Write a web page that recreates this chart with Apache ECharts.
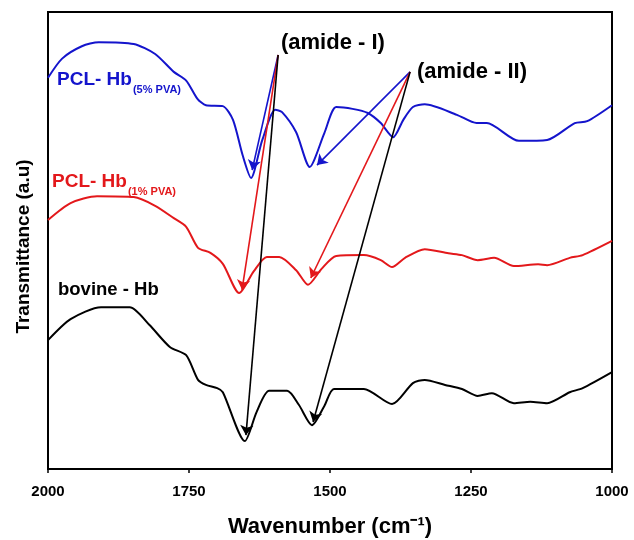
<!DOCTYPE html>
<html>
<head>
<meta charset="utf-8">
<script src="https://cdn.jsdelivr.net/npm/echarts@6/dist/echarts.min.js"></script>
<style>
  html, body { margin: 0; padding: 0; background: #fff; }
  #chart { width: 634px; height: 540px; }
</style>
</head>
<body>
<div id="chart"></div>
<script>
// wavenumber (cm-1) and transmittance (a.u., offset per sample)
const blueWn = [2000, 1975, 1940, 1910, 1848, 1810, 1777, 1755, 1735, 1720, 1690, 1672, 1655, 1640, 1620, 1597, 1585, 1560, 1536, 1510, 1489, 1460, 1433, 1410, 1388, 1370, 1353, 1332, 1275, 1240, 1222, 1165, 1115, 1066, 1044, 1000]
const blueT = [85.6, 89.8, 92.5, 93.4, 93.0, 90.8, 86.9, 85.0, 81.0, 79.6, 79.4, 76.4, 68.7, 63.7, 72.0, 78.6, 78.1, 73.7, 66.1, 73.5, 79.2, 78.8, 77.9, 75.7, 72.6, 76.4, 79.2, 79.8, 77.5, 75.7, 75.7, 71.8, 72.0, 75.7, 76.1, 79.6]

const redWn = [2000, 1960, 1913, 1848, 1810, 1777, 1755, 1734, 1712, 1690, 1661, 1635, 1612, 1590, 1560, 1539, 1515, 1489, 1440, 1410, 1390, 1367, 1332, 1290, 1266, 1238, 1209, 1174, 1131, 1115, 1075, 1052, 1000]
const redT = [54.5, 58.2, 59.7, 59.5, 57.6, 54.9, 53.0, 48.4, 47.3, 44.9, 38.5, 43.3, 46.4, 46.4, 43.5, 40.3, 43.8, 46.6, 46.8, 45.7, 44.2, 46.2, 48.1, 47.2, 46.8, 45.7, 46.2, 44.4, 44.8, 44.6, 46.2, 46.8, 49.9]

const blackWn = [2000, 1960, 1906, 1855, 1820, 1784, 1755, 1734, 1720, 1700, 1690, 1651, 1630, 1608, 1576, 1555, 1532, 1510, 1493, 1440, 1390, 1353, 1332, 1296, 1266, 1238, 1213, 1174, 1145, 1115, 1075, 1052, 1000]
const blackT = [28.2, 32.8, 35.4, 35.4, 31.5, 26.7, 24.9, 19.5, 18.4, 17.7, 16.8, 6.1, 12.5, 17.1, 17.1, 14.0, 9.6, 13.8, 17.5, 17.5, 14.2, 18.8, 19.5, 18.4, 17.5, 16.0, 16.6, 14.4, 14.7, 14.4, 16.8, 17.7, 21.2]

const xTicks = [2000, 1750, 1500, 1250, 1000]

// arrow annotations: start points and arrow tips [wn, T]
const amide1From = [1592, 90.6]
const amide2From = [1358, 86.9]
const blueTips = [[1638, 65.4], [1523, 66.5]]
const redTips = [[1656, 39.2], [1534, 41.8]]
const blackTips = [[1649, 7.4], [1530, 10.3]]

const BLUE = '#1414cc'
const RED = '#e3181b'
const BLACK = '#000000'
const FONT = 'Liberation Sans'

const zip = (xs, ys) => xs.map((x, i) => [x, ys[i]])

const arrows = (tips, color) => ({
  silent: true,
  symbol: ['none', 'arrow'],
  symbolSize: 10,
  label: { show: false },
  itemStyle: { color },
  lineStyle: { color, width: 1.6, type: 'solid' },
  emphasis: { disabled: true },
  data: [
    [{ coord: amide1From }, { coord: tips[0] }],
    [{ coord: amide2From }, { coord: tips[1] }],
  ],
})

const makeSeries = (name, wn, t, color, tips) => ({
  name,
  type: 'line',
  symbol: 'none',
  smooth: 0.25,
  data: zip(wn, t),
  lineStyle: { color, width: 2 },
  itemStyle: { color },
  markLine: arrows(tips, color),
})

const chart = echarts.init(document.getElementById('chart'))
chart.setOption({
  animation: false,
  grid: {
    left: 48, right: 22, top: 12, bottom: 71,
    outerBoundsMode: 'none',
    show: true, borderColor: '#000', borderWidth: 2,
  },
  xAxis: {
    type: 'value',
    inverse: true,
    min: 1000,
    max: 2000,
    interval: 250,
    name: 'Wavenumber (cm⁻¹)',
    nameLocation: 'middle',
    nameGap: 47,
    nameTextStyle: { fontFamily: FONT, fontWeight: 'bold', fontSize: 22, color: '#000' },
    axisLine: { show: true, lineStyle: { color: '#000', width: 2 } },
    axisTick: { show: true, length: 4, lineStyle: { color: '#000', width: 1.5 } },
    axisLabel: {
      fontFamily: FONT, fontWeight: 'bold', fontSize: 15, color: '#000', margin: 15,
      formatter: (v) => (xTicks.includes(v) ? String(v) : ''),
    },
    splitLine: { show: false },
  },
  yAxis: {
    type: 'value',
    min: 0,
    max: 100,
    name: 'Transmittance (a.u)',
    nameLocation: 'middle',
    nameGap: 15,
    nameTextStyle: { fontFamily: FONT, fontWeight: 'bold', fontSize: 19, color: '#000', padding: [0, 12, 0, 0] },
    axisLine: { show: true, lineStyle: { color: '#000', width: 2 } },
    axisTick: { show: false },
    axisLabel: { show: false },
    splitLine: { show: false },
  },
  graphic: [
    {
      type: 'text', left: 57, top: 70,
      style: {
        text: '{m|PCL- Hb}{s|(5% PVA)}',
        rich: {
          m: { fontFamily: FONT, fontWeight: 'bold', fontSize: 19, fill: BLUE },
          s: { fontFamily: FONT, fontWeight: 'bold', fontSize: 11, fill: BLUE, padding: [20, 0, 0, 1] },
        },
      },
    },
    {
      type: 'text', left: 52, top: 172,
      style: {
        text: '{m|PCL- Hb}{s|(1% PVA)}',
        rich: {
          m: { fontFamily: FONT, fontWeight: 'bold', fontSize: 19, fill: RED },
          s: { fontFamily: FONT, fontWeight: 'bold', fontSize: 11, fill: RED, padding: [20, 0, 0, 1] },
        },
      },
    },
    {
      type: 'text', left: 58, top: 280,
      style: { text: 'bovine - Hb', fontFamily: FONT, fontWeight: 'bold', fontSize: 18.5, fill: BLACK },
    },
    {
      type: 'text', left: 281, top: 32,
      style: { text: '(amide - I)', fontFamily: FONT, fontWeight: 'bold', fontSize: 22, fill: BLACK },
    },
    {
      type: 'text', left: 417, top: 61,
      style: { text: '(amide - II)', fontFamily: FONT, fontWeight: 'bold', fontSize: 22, fill: BLACK },
    },
  ],
  series: [
    makeSeries('PCL- Hb (5% PVA)', blueWn, blueT, BLUE, blueTips),
    makeSeries('PCL- Hb (1% PVA)', redWn, redT, RED, redTips),
    makeSeries('bovine - Hb', blackWn, blackT, BLACK, blackTips),
  ],
})
</script>
</body>
</html>
